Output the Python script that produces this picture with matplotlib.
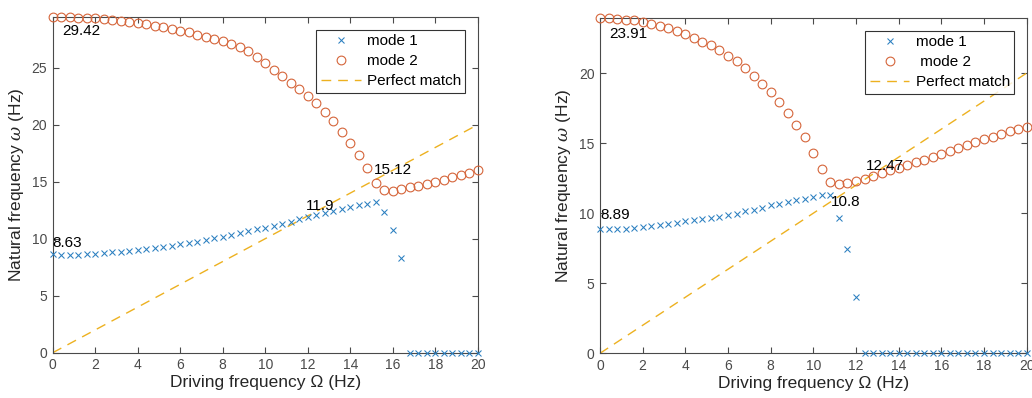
import numpy as np
import matplotlib
matplotlib.use("Agg")
import matplotlib.pyplot as plt

plt.rcParams['font.family'] = ['Liberation Sans', 'DejaVu Sans']
plt.rcParams['mathtext.fontset'] = 'custom'
plt.rcParams['mathtext.it'] = 'DejaVu Serif:italic'

# driving frequency sweep (Hz), 0 to 20 in 0.4 steps
drive = np.linspace(0, 20, 51)

# left panel
left_mode1 = [8.63, 8.55, 8.58, 8.6, 8.62, 8.7, 8.76, 8.8, 8.86, 8.92,
              9.0, 9.08, 9.16, 9.25, 9.38, 9.5, 9.6, 9.72, 9.88, 10.02,
              10.18, 10.34, 10.5, 10.66, 10.82, 10.98, 11.15, 11.32, 11.5, 11.72,
              11.92, 12.06, 12.24, 12.42, 12.6, 12.76, 12.92, 13.06, 13.2, 12.35,
              10.75, 8.35, 0, 0, 0, 0, 0, 0, 0, 0, 0]
left_mode2 = [29.42, 29.42, 29.41, 29.39, 29.36, 29.32, 29.27, 29.2, 29.12, 29.02,
              28.91, 28.8, 28.68, 28.55, 28.41, 28.26, 28.09, 27.91, 27.72, 27.52,
              27.3, 27.06, 26.8, 26.45, 25.97, 25.4, 24.82, 24.27, 23.68, 23.1,
              22.52, 21.87, 21.14, 20.35, 19.39, 18.37, 17.34, 16.17, 14.91, 14.27,
              14.21, 14.33, 14.5, 14.65, 14.8, 15.0, 15.18, 15.38, 15.58, 15.8, 16.03]
left_notes = [("29.42", 0.45, 28.2), ("8.63", 0.0, 9.6), ("11.9", 11.9, 12.9), ("15.12", 15.12, 16.0)]

# right panel
right_mode1 = [8.89, 8.89, 8.89, 8.9, 8.96, 9.01, 9.06, 9.13, 9.2, 9.29,
               9.41, 9.49, 9.56, 9.65, 9.72, 9.84, 9.96, 10.13, 10.25, 10.39,
               10.56, 10.67, 10.8, 10.92, 11.04, 11.16, 11.28, 11.3, 9.68, 7.47,
               3.99, 0, 0, 0, 0, 0, 0, 0, 0, 0,
               0, 0, 0, 0, 0, 0, 0, 0, 0, 0, 0]
right_mode2 = [23.91, 23.91, 23.86, 23.82, 23.77, 23.67, 23.53, 23.39, 23.2, 23.01,
               22.77, 22.54, 22.25, 21.97, 21.63, 21.25, 20.83, 20.36, 19.81, 19.22,
               18.63, 17.96, 17.15, 16.3, 15.42, 14.3, 13.17, 12.21, 12.05, 12.14,
               12.28, 12.45, 12.64, 12.85, 13.05, 13.24, 13.47, 13.64, 13.83, 14.04,
               14.23, 14.42, 14.63, 14.9, 15.06, 15.3, 15.47, 15.66, 15.84, 16.01, 16.18]
right_notes = [("23.91", 0.45, 22.8), ("8.89", 0.0, 9.85), ("10.8", 10.8, 10.8), ("12.47", 12.47, 13.35)]

C1 = '#2a7fc0'
C2 = '#d5653a'
C3 = '#EDB120'
AX = '#4a4a4a'


def panel(ax, m1, m2, ytop, yticks, notes, labels):
    ax.plot(drive, m1, 'x', color=C1, ms=4.8, mew=0.75, label=labels[0], clip_on=False, zorder=3)
    ax.plot(drive, m2, 'o', color=C2, mfc='none', ms=6.3, mew=0.8, label=labels[1], clip_on=False, zorder=3)
    ax.plot([0, 20], [0, 20], '--', color=C3, lw=1.0, dashes=(7, 5), label='Perfect match', zorder=2)
    for txt, x, y in notes:
        ax.text(x, y, txt, fontsize=11, va='center', ha='left', color='k', zorder=4)
    ax.set_xlim(0, 20)
    ax.set_ylim(0, ytop)
    ax.set_xticks(np.arange(0, 21, 2))
    ax.set_yticks(yticks)
    ax.tick_params(direction='in', top=True, right=True, length=4, width=0.8,
                   colors=AX, labelsize=10, pad=4)
    for s in ax.spines.values():
        s.set_color(AX)
        s.set_linewidth(0.8)
    ax.set_xlabel('Driving frequency Ω (Hz)', fontsize=12.5, color='#262626', labelpad=2)
    ax.set_ylabel(r'Natural frequency $\omega$ (Hz)', fontsize=12.5, color='#262626', labelpad=4)
    leg = ax.legend(loc='upper right', fontsize=11, frameon=True, fancybox=False,
                    edgecolor='k', borderaxespad=0.8, handlelength=2.6,
                    borderpad=0.3, labelspacing=0.4, handletextpad=0.4)
    leg.get_frame().set_linewidth(0.8)


fig = plt.figure(figsize=(10.32, 3.98), dpi=100)
ax1 = fig.add_axes([0.0511, 0.1138, 0.4118, 0.8427])
ax2 = fig.add_axes([0.5814, 0.1123, 0.4134, 0.8417])
panel(ax1, left_mode1, left_mode2, 29.42, [0, 5, 10, 15, 20, 25], left_notes, ['mode 1', 'mode 2'])
panel(ax2, right_mode1, right_mode2, 23.91, [0, 5, 10, 15, 20], right_notes, ['mode 1', ' mode 2'])
fig.savefig('out.png', dpi=100)
